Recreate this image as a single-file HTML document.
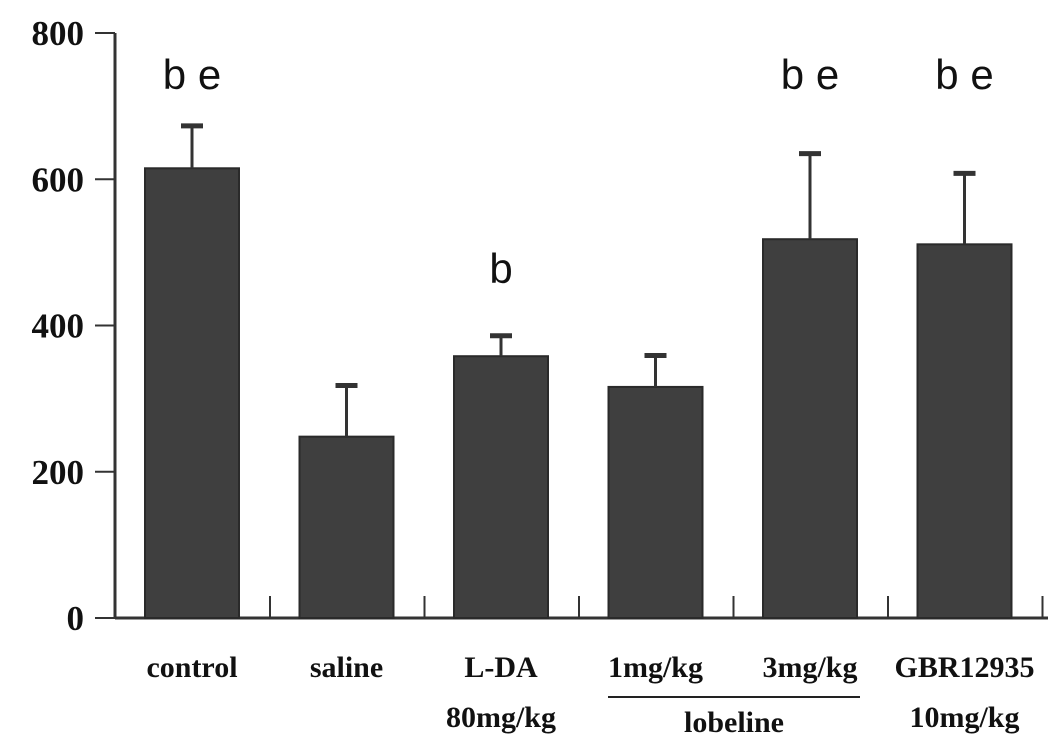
<!DOCTYPE html>
<html><head><meta charset="utf-8"><style>
body{margin:0;background:#fff;width:1063px;height:751px;overflow:hidden}
svg{display:block}
.t{font-family:"Liberation Serif",serif;font-weight:bold;font-size:35px;fill:#111}
.lab{font-family:"Liberation Serif",serif;font-weight:bold;font-size:30px;fill:#111}
.sig{font-family:"Liberation Sans",sans-serif;font-size:42px;fill:#111}
</style></head><body>
<svg id="chart" width="1063" height="751" xmlns="http://www.w3.org/2000/svg"></svg>
<script>
const categories=["control","saline","L-DA","1mg/kg","3mg/kg","GBR12935"];
const means=[615,248,358,316,518,511];
const errors=[58,70,28,43,117,97];
const sigLabels=["b e","","b","","b e","b e"];
const yTicks=[0,200,400,600,800];
const lab1=["control","saline","L-DA","1mg/kg","3mg/kg","GBR12935"];
const lab2=["","","80mg/kg","","","10mg/kg"];
const NS="http://www.w3.org/2000/svg";
const svg=document.getElementById('chart');
const x0=115,base=618,yTop=33,ymax=800;
const y=v=>base-(base-yTop)*v/ymax;
const step=154.5,first=145,bw=94;
const bx=i=>first+i*step;
function mk(tag,attrs,parent){const e=document.createElementNS(NS,tag);for(const k in attrs)e.setAttribute(k,attrs[k]);(parent||svg).appendChild(e);return e;}
let a=mk('line',{x1:x0,y1:yTop,x2:x0,y2:base,stroke:'#333','stroke-width':3});


a=mk('line',{x1:x0,y1:base,x2:1048,y2:base,stroke:'#333','stroke-width':3});


yTicks.forEach(v=>{
 let l=mk('line',{x1:x0-20,y1:y(v),x2:x0,y2:y(v),stroke:'#333','stroke-width':2});
 
 
 let t=mk('text',{x:x0-31,y:y(v)+12,'text-anchor':'end',class:'t'});t.textContent=v;
 
 
});
categories.forEach((c,i)=>{
 const cx=bx(i)+bw/2;
 let r=mk('rect',{x:bx(i),y:y(means[i]),width:bw,height:base-y(means[i]),fill:'#3f3f3f',stroke:'#2a2a2a','stroke-width':2});
 
 
 let e=mk('line',{x1:cx,y1:y(means[i]),x2:cx,y2:y(means[i]+errors[i]),stroke:'#333','stroke-width':3});
 
 
 let cap=mk('line',{x1:cx-11,y1:y(means[i]+errors[i]),x2:cx+11,y2:y(means[i]+errors[i]),stroke:'#333','stroke-width':5});
 
 
 if(sigLabels[i]){
  let s=mk('text',{x:cx,y:i==2?283:89,'text-anchor':'middle',class:'sig'});s.textContent=sigLabels[i];
  
  
 }
 let tk=mk('line',{x1:bx(i)+bw+31,y1:base,x2:bx(i)+bw+31,y2:base-22,stroke:'#333','stroke-width':2});
 
 
 let t1=mk('text',{x:cx,y:677,'text-anchor':'middle',class:'lab'});t1.textContent=lab1[i];
 
 
 if(lab2[i]){let t2=mk('text',{x:cx,y:727,'text-anchor':'middle',class:'lab'});t2.textContent=lab2[i];
 
 }
});
let gl=mk('line',{x1:608,y1:697,x2:860,y2:697,stroke:'#222','stroke-width':2});


let gt=mk('text',{x:734,y:732,'text-anchor':'middle',class:'lab'});gt.textContent='lobeline';


</script>
</body></html>
